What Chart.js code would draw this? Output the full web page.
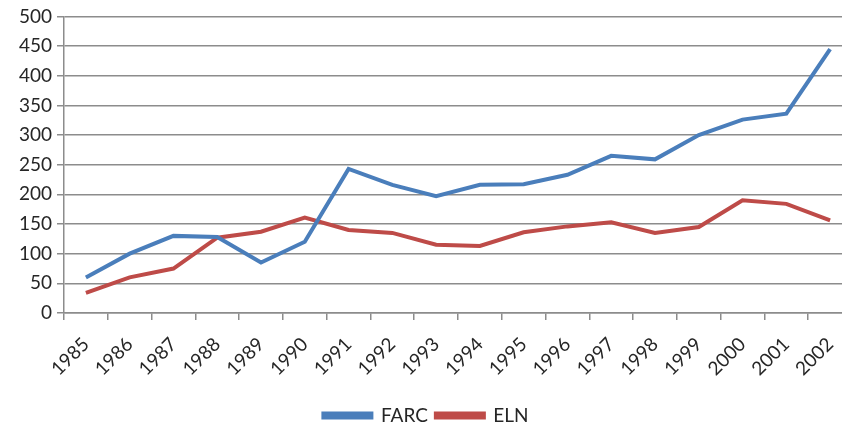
<html lang="en">
<head>
    <meta charset="UTF-8">
    <title>FARC / ELN</title>
    <script src="https://cdn.jsdelivr.net/npm/chart.js@4/dist/chart.umd.min.js"></script>
    <style>
        body { margin: 0; overflow: hidden; background: #fff; }
        #wrap { position: relative; width: 860px; height: 435px; }
    </style>
</head>
<body>
    <div id="wrap"><canvas id="graph1"></canvas></div>
    <script>
        const years = ["1985", "1986", "1987", "1988", "1989", "1990", "1991", "1992", "1993",
                       "1994", "1995", "1996", "1997", "1998", "1999", "2000", "2001", "2002"];
        const farc = [60, 100, 130, 128, 85, 120, 243, 216, 197, 216, 217, 233, 265, 259, 300, 326, 336, 445];
        const eln = [34, 60, 75, 127, 137, 161, 140, 135, 115, 113, 136, 146, 153, 135, 145, 190, 184, 156];

        const gridColor = "#8c8c8c";
        const textColor = "#262626";
        Chart.defaults.font.family = "Lato, 'Open Sans', sans-serif";
        Chart.defaults.font.size = 19;
        Chart.defaults.color = textColor;

        new Chart("graph1", {
            type: "line",
            data: {
                labels: years,
                datasets: [{
                    label: "FARC",
                    data: farc,
                    borderColor: "#4a7ebb",
                    backgroundColor: "#4a7ebb",
                    borderWidth: 4,
                    pointRadius: 0,
                    tension: 0,
                    fill: false
                }, {
                    label: "ELN",
                    data: eln,
                    borderColor: "#be4b48",
                    backgroundColor: "#be4b48",
                    borderWidth: 4,
                    pointRadius: 0,
                    tension: 0,
                    fill: false
                }]
            },
            options: {
                responsive: true,
                maintainAspectRatio: false,
                animation: false,
                layout: { padding: { top: 10, right: 8, left: 0, bottom: 0 } },
                plugins: {
                    tooltip: { enabled: false },
                    legend: {
                        position: "bottom",
                        labels: {
                            boxWidth: 48,
                            boxHeight: 4,
                            padding: 8,
                            font: { size: 19 }
                        }
                    }
                },
                scales: {
                    x: {
                        offset: true,
                        afterFit: function (scale) { scale.height = 85; },
                        grid: {
                            offset: true,
                            drawOnChartArea: false,
                            drawTicks: true,
                            tickLength: 7,
                            color: gridColor,
                            lineWidth: 1.5
                        },
                        border: { color: gridColor, width: 1.5 },
                        ticks: {
                            minRotation: 45,
                            maxRotation: 45,
                            autoSkip: false,
                            padding: 13,
                            font: { size: 19 }
                        }
                    },
                    y: {
                        min: 0,
                        max: 500,
                        afterFit: function (scale) { scale.width = 64; },
                        grid: {
                            color: gridColor,
                            lineWidth: 1.5,
                            tickLength: 7
                        },
                        border: { color: gridColor, width: 1.5 },
                        ticks: {
                            stepSize: 50,
                            padding: 5,
                            font: { size: 19 }
                        }
                    }
                }
            }
        });
    </script>
</body>
</html>
